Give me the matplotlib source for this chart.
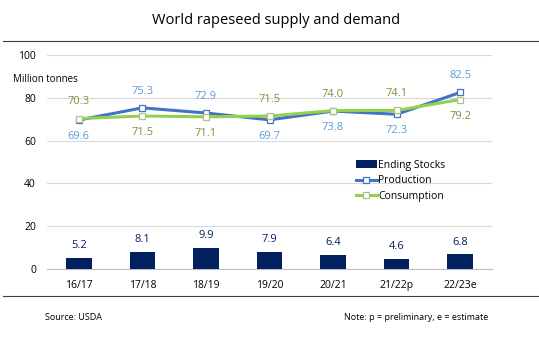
import numpy as np
import matplotlib.pyplot as plt

plt.rcParams['font.family'] = ['Open Sans', 'DejaVu Sans']

seasons = ["16/17", "17/18", "18/19", "19/20", "20/21", "21/22p", "22/23e"]
ending_stocks = [5.2, 8.1, 9.9, 7.9, 6.4, 4.6, 6.8]
production = [69.6, 75.3, 72.9, 69.7, 73.8, 72.3, 82.5]
consumption = [70.3, 71.5, 71.1, 71.5, 74.0, 74.1, 79.2]

BAR_COLOR = "#002060"
PROD_COLOR = "#4472C4"
PROD_TEXT = "#5B9BD5"
CONS_COLOR = "#92D050"
CONS_TEXT = "#77933C"

fig = plt.figure(figsize=(5.39, 3.38), dpi=100)
ax = fig.add_axes([47 / 539, 1 - 269 / 338, 445 / 539, 214 / 338])

x = np.arange(len(seasons))
bars = ax.bar(x, ending_stocks, width=0.4, color=BAR_COLOR, label="Ending Stocks", zorder=2)
prod_line, = ax.plot(x, production, color=PROD_COLOR, lw=2.2, marker="s", markersize=5,
                     markerfacecolor="white", markeredgecolor=PROD_COLOR, markeredgewidth=0.9,
                     label="Production", zorder=3)
cons_line, = ax.plot(x, consumption, color=CONS_COLOR, lw=2.2, marker="s", markersize=5,
                     markerfacecolor="white", markeredgecolor="#A9C47F", markeredgewidth=0.9,
                     label="Consumption", zorder=4)

for i in range(len(seasons)):
    ax.annotate(f"{ending_stocks[i]:.1f}", (x[i], ending_stocks[i]), xytext=(0, 5),
                textcoords="offset points", ha="center", va="bottom",
                fontsize=8, color=BAR_COLOR)
    p_up = production[i] >= consumption[i]
    ax.annotate(f"{production[i]:.1f}", (x[i], production[i]),
                xytext=(0, 8 if p_up else -8), textcoords="offset points",
                ha="center", va="bottom" if p_up else "top",
                fontsize=8, color=PROD_TEXT)
    ax.annotate(f"{consumption[i]:.1f}", (x[i], consumption[i]),
                xytext=(0, -8 if p_up else 8), textcoords="offset points",
                ha="center", va="top" if p_up else "bottom",
                fontsize=8, color=CONS_TEXT)

ax.set_ylim(0, 100)
ax.set_xlim(-0.5, len(seasons) - 0.5)
ax.set_yticks([0, 20, 40, 60, 80, 100])
ax.set_xticks(x)
ax.set_xticklabels(seasons)
ax.tick_params(axis="both", length=0, labelsize=7.5, colors="black")
ax.tick_params(axis="y", pad=8)
ax.tick_params(axis="x", pad=8)
ax.grid(axis="y", color="#D9D9D9", lw=0.8, zorder=0)
for s in ["top", "right", "left"]:
    ax.spines[s].set_visible(False)
ax.spines["bottom"].set_color("#BFBFBF")
ax.spines["bottom"].set_zorder(1)

ax.text(-0.077, 0.885, "Million tonnes", transform=ax.transAxes, fontsize=7,
        ha="left", va="center")

ax.legend([bars, prod_line, cons_line], ["Ending Stocks", "Production", "Consumption"],
          loc="upper left", bbox_to_anchor=(0.685, 0.53), frameon=False,
          fontsize=7.5, handlelength=2.0, handletextpad=0.15, labelspacing=0.45,
          borderaxespad=0)

fig.text(276 / 539, 1 - 20 / 338, "World rapeseed supply and demand",
         ha="center", va="center", fontsize=10.5)
fig.add_artist(plt.Line2D([3 / 539, 1], [1 - 41 / 338] * 2, color="#404040", lw=0.8))
fig.add_artist(plt.Line2D([3 / 539, 1], [1 - 296 / 338] * 2, color="#404040", lw=0.8))
fig.text(45 / 539, 1 - 317 / 338, "Source: USDA", ha="left", va="center", fontsize=6.5)
fig.text(488 / 539, 1 - 317 / 338, "Note: p = preliminary, e = estimate",
         ha="right", va="center", fontsize=6.5)

fig.savefig("out.png", dpi=100)
